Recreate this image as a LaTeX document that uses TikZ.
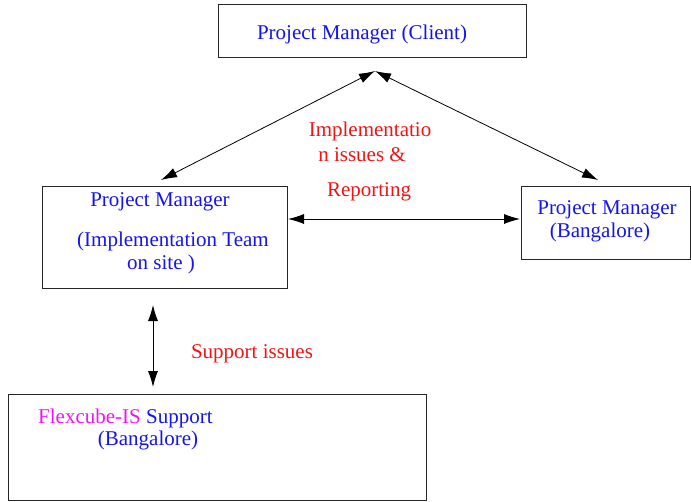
\documentclass[tikz,border=0pt]{standalone}
\usepackage{fontspec}
\setmainfont{Liberation Serif}
\usetikzlibrary{arrows.meta}
\definecolor{tblue}{RGB}{20,20,240}
\definecolor{tred}{RGB}{240,20,20}
\definecolor{tmag}{RGB}{240,20,240}
\tikzset{
  box/.style={draw=black!85, line width=0.9pt, inner sep=0pt},
  lbl/.style={inner sep=0pt, font=\fontsize{21}{25}\selectfont},
  bl/.style={lbl, text=tblue},
  rd/.style={lbl, text=tred},
  link/.style={line width=0.8pt, {Latex[length=16pt,width=10pt]}-{Latex[length=16pt,width=10pt]}}
}
\begin{document}
\begin{tikzpicture}[x=1pt,y=-1pt]
\useasboundingbox (0,0) rectangle (691,501);
% boxes
\draw[box] (218,4) rectangle (526,57);
\draw[box] (42,186) rectangle (287,288);
\draw[box] (521,186) rectangle (690,259);
\draw[box] (8,394) rectangle (426,500);
% texts
\node[bl] (tclient) at (362,34) {Project Manager (Client)};
\node[bl] (tl1) at (160,202) {Project Manager};
\node[bl] (tl2) at (173,241) {(Implementation Team};
\node[bl] (tl3) at (161,264) {on site )};
\node[bl] (tr1) at (607,210) {Project Manager};
\node[bl] (tr2) at (600,232) {(Bangalore)};
\node[lbl, anchor=west] (tb1) at (38,418) {\textcolor{tmag}{Flexcube-IS} \textcolor{tblue}{Support}};
\node[bl] (tb2) at (148,440) {(Bangalore)};
\node[rd] (r1) at (370,131) {Implementatio};
\node[rd] (r2) at (362,155) {n issues \&};
\node[rd] (r3) at (369,192) {Reporting};
\node[rd] (r4) at (252,354) {Support issues};
% connector ends
\coordinate (ctop) at (375,71);
\coordinate (cleft) at (161,180);
\coordinate (cright) at (598,180);
\coordinate (hl) at (288,219);
\coordinate (hr) at (520,219);
\coordinate (vt) at (153,305);
\coordinate (vb) at (153,387);
\draw[link] (ctop) -- (cleft);
\draw[link] (ctop) -- (cright);
\draw[link] (hl) -- (hr);
\draw[link] (vt) -- (vb);
\end{tikzpicture}
\end{document}
